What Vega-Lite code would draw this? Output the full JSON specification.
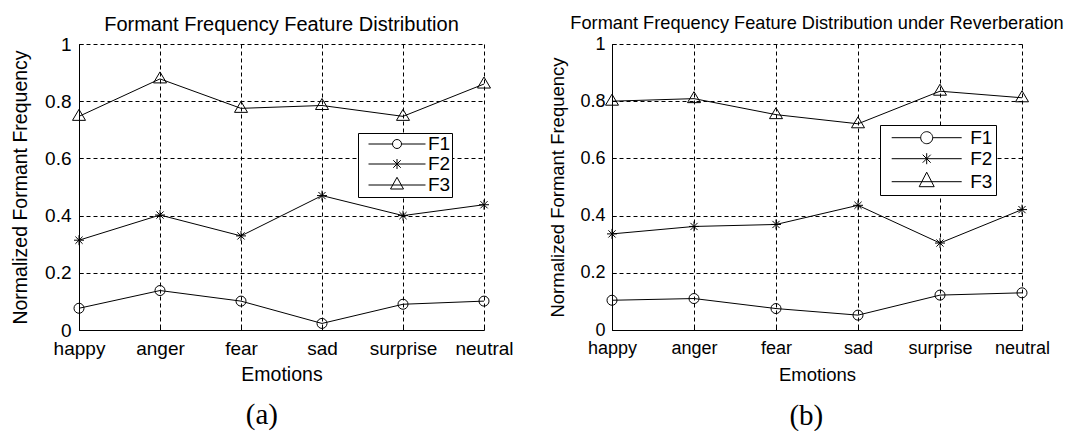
{
  "$schema": "https://vega.github.io/schema/vega-lite/v6.json",
  "background": "white",
  "padding": {"left": 10, "top": 13, "right": 0, "bottom": 0},
  "autosize": {"type": "pad"},
  "resolve": {"scale": {"shape": "independent"}, "legend": {"shape": "independent"}},
  "datasets": {
    "a": [
      {"emotion": "happy", "series": "F1", "value": 0.076},
      {"emotion": "anger", "series": "F1", "value": 0.138},
      {"emotion": "fear", "series": "F1", "value": 0.101},
      {"emotion": "sad", "series": "F1", "value": 0.023},
      {"emotion": "surprise", "series": "F1", "value": 0.09},
      {"emotion": "neutral", "series": "F1", "value": 0.101},
      {"emotion": "happy", "series": "F2", "value": 0.314},
      {"emotion": "anger", "series": "F2", "value": 0.402},
      {"emotion": "fear", "series": "F2", "value": 0.329},
      {"emotion": "sad", "series": "F2", "value": 0.47},
      {"emotion": "surprise", "series": "F2", "value": 0.4},
      {"emotion": "neutral", "series": "F2", "value": 0.438},
      {"emotion": "happy", "series": "F3", "value": 0.747},
      {"emotion": "anger", "series": "F3", "value": 0.878},
      {"emotion": "fear", "series": "F3", "value": 0.775},
      {"emotion": "sad", "series": "F3", "value": 0.785},
      {"emotion": "surprise", "series": "F3", "value": 0.747},
      {"emotion": "neutral", "series": "F3", "value": 0.86}
    ],
    "b": [
      {"emotion": "happy", "series": "F1", "value": 0.104},
      {"emotion": "anger", "series": "F1", "value": 0.11},
      {"emotion": "fear", "series": "F1", "value": 0.075},
      {"emotion": "sad", "series": "F1", "value": 0.052},
      {"emotion": "surprise", "series": "F1", "value": 0.122},
      {"emotion": "neutral", "series": "F1", "value": 0.13},
      {"emotion": "happy", "series": "F2", "value": 0.336},
      {"emotion": "anger", "series": "F2", "value": 0.362},
      {"emotion": "fear", "series": "F2", "value": 0.369},
      {"emotion": "sad", "series": "F2", "value": 0.436},
      {"emotion": "surprise", "series": "F2", "value": 0.304},
      {"emotion": "neutral", "series": "F2", "value": 0.421},
      {"emotion": "happy", "series": "F3", "value": 0.8},
      {"emotion": "anger", "series": "F3", "value": 0.809},
      {"emotion": "fear", "series": "F3", "value": 0.753},
      {"emotion": "sad", "series": "F3", "value": 0.721},
      {"emotion": "surprise", "series": "F3", "value": 0.835},
      {"emotion": "neutral", "series": "F3", "value": 0.812}
    ]
  },
  "spacing": 34,
  "hconcat": [
    {
      "title": {"text": "(a)", "orient": "bottom", "anchor": "middle", "font": "Liberation Serif", "fontSize": 29, "offset": 17},
      "vconcat": [
        {
          "title": {"text": "Formant Frequency Feature Distribution", "offset": 0, "fontSize": 20},
          "width": 405,
          "height": 286,
          "data": {"name": "a"},
          "encoding": {
            "x": {"field": "emotion", "type": "nominal", "sort": ["happy", "anger", "fear", "sad", "surprise", "neutral"], "scale": {"type": "point", "padding": 0}, "axis": {"title": "Emotions", "labelAngle": 0, "labelFontSize": 19, "titleFontSize": 19.5, "labelPadding": 13, "titlePadding": 7}},
            "y": {"field": "value", "type": "quantitative", "scale": {"domain": [0, 1]}, "axis": {"values": [0, 0.2, 0.4, 0.6, 0.8, 1], "format": "~g", "title": "Normalized Formant Frequency", "labelFontSize": 19, "titleFontSize": 19.5, "labelPadding": 12, "titlePadding": 14}}
          },
          "resolve": {"scale": {"shape": "independent"}},
          "layer": [
            {"mark": {"type": "line", "color": "black", "strokeWidth": 1}, "encoding": {"detail": {"field": "series"}}},
            {
              "mark": {"type": "point", "filled": false, "stroke": "black", "strokeWidth": 1, "opacity": 1, "size": 100},
              "encoding": {
                "shape": {
                  "field": "series", "type": "nominal",
                  "scale": {"domain": ["F1", "F2", "F3"], "range": ["circle", "M-1,0H1M0,-1V1M-0.72,-0.72L0.72,0.72M-0.72,0.72L0.72,-0.72", "M-1.3,0.8L0,-1.4L1.3,0.8Z"]},
                  "legend": null
                }
              }
            },
            {
              "transform": [{"filter": "false"}],
              "mark": {"type": "point", "filled": false, "stroke": "black", "strokeWidth": 1, "opacity": 1, "size": 100},
              "encoding": {
                "shape": {
                  "field": "series", "type": "nominal",
                  "scale": {"domain": ["F1", "F2", "F3"], "range": ["M-5.7,0H-0.9A0.9,0.9,0,1,1,0.9,0H5.7M0.9,0A0.9,0.9,0,1,1,-0.9,0", "M-5.7,0H5.7M0,-1V1M-0.75,-0.75L0.75,0.75M-0.75,0.75L0.75,-0.75", "M-5.7,0H5.7M-1.3,0.8L0,-1.54L1.3,0.8Z"]},
                  "legend": {
                    "title": null, "orient": "none", "legendX": 279, "legendY": 89,
                    "symbolSize": 100, "symbolOffset": 28, "labelOffset": 21.5, "rowPadding": 0, "padding": 1.5, "labelFontSize": 19,
                    "labelExpr": "datum.label + '\u00a0\u00a0\u00a0'"
                  }
                }
              }
            }
          ]
        }
      ]
    },
    {
      "title": {"text": "(b)", "orient": "bottom", "anchor": "middle", "font": "Liberation Serif", "fontSize": 29, "offset": 18.5},
      "vconcat": [
        {
          "title": {"text": "Formant Frequency Feature Distribution under Reverberation", "offset": 2, "fontSize": 18.2},
          "width": 410,
          "height": 286,
          "data": {"name": "b"},
          "encoding": {
            "x": {"field": "emotion", "type": "nominal", "sort": ["happy", "anger", "fear", "sad", "surprise", "neutral"], "scale": {"type": "point", "padding": 0}, "axis": {"title": "Emotions", "labelAngle": 0, "labelFontSize": 18, "titleFontSize": 18.5, "labelPadding": 13, "titlePadding": 8}},
            "y": {"field": "value", "type": "quantitative", "scale": {"domain": [0, 1]}, "axis": {"values": [0, 0.2, 0.4, 0.6, 0.8, 1], "format": "~g", "title": "Normalized Formant Frequency", "labelFontSize": 18, "titleFontSize": 18.5, "labelPadding": 11, "titlePadding": 12}}
          },
          "resolve": {"scale": {"shape": "independent"}},
          "layer": [
            {"mark": {"type": "line", "color": "black", "strokeWidth": 1}, "encoding": {"detail": {"field": "series"}}},
            {
              "mark": {"type": "point", "filled": false, "stroke": "black", "strokeWidth": 1, "opacity": 1, "size": 100},
              "encoding": {
                "shape": {
                  "field": "series", "type": "nominal",
                  "scale": {"domain": ["F1", "F2", "F3"], "range": ["circle", "M-1,0H1M0,-1V1M-0.72,-0.72L0.72,0.72M-0.72,0.72L0.72,-0.72", "M-1.3,0.8L0,-1.4L1.3,0.8Z"]},
                  "legend": null
                }
              }
            },
            {
              "transform": [{"filter": "false"}],
              "mark": {"type": "point", "filled": false, "stroke": "black", "strokeWidth": 1, "opacity": 1, "size": 100},
              "encoding": {
                "shape": {
                  "field": "series", "type": "nominal",
                  "scale": {"domain": ["F1", "F2", "F3"], "range": ["M-7,0H-1.2A1.2,1.2,0,1,1,1.2,0H7M1.2,0A1.2,1.2,0,1,1,-1.2,0", "M-7,0H7M0,-1.1V1.1M-0.8,-0.8L0.8,0.8M-0.8,0.8L0.8,-0.8", "M-7,0H7M-1.5,1L0,-1.9L1.5,1Z"]},
                  "legend": {
                    "title": null, "orient": "none", "legendX": 268, "legendY": 81,
                    "symbolSize": 100, "symbolOffset": 34, "labelOffset": 34, "rowPadding": 1, "padding": 3.2, "labelFontSize": 19,
                    "labelExpr": "datum.label + '\u00a0\u00a0\u00a0\u00a0'"
                  }
                }
              }
            }
          ]
        }
      ]
    }
  ],
  "config": {
    "font": "Liberation Sans",
    "view": {"stroke": null},
    "axis": {
      "domainColor": "black", "domainWidth": 1, "grid": true, "gridColor": "black", "gridDash": [4, 3], "gridOpacity": 1, "gridWidth": 1,
      "ticks": true, "tickSize": -4, "tickColor": "black", "tickWidth": 1,
      "labelColor": "black", "labelFont": "Liberation Sans",
      "titleColor": "black", "titleFontWeight": "normal", "titleFont": "Liberation Sans"
    },
    "title": {"color": "black", "fontWeight": "normal", "font": "Liberation Sans"},
    "legend": {
      "strokeColor": "black", "fillColor": "white", "labelColor": "black", "labelFont": "Liberation Sans",
      "symbolStrokeColor": "black", "symbolStrokeWidth": 1, "symbolFillColor": "transparent"
    }
  }
}
